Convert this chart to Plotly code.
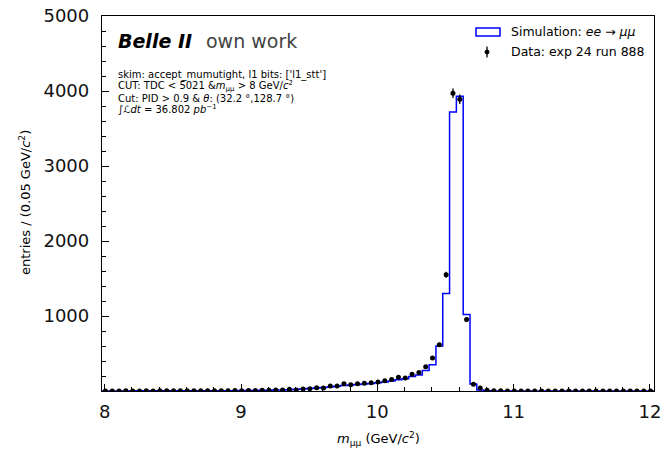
import numpy as np
import plotly.graph_objects as go

# ---- data ----
bin_lo = 7.98
bin_width = 0.05
mc_counts = [
    1, 1, 1, 1, 1, 2, 2, 2, 2, 2,
    2, 3, 3, 3, 3, 4, 4, 4, 5, 5,
    6, 7, 8, 9, 10, 12, 14, 18, 22, 27,
    33, 40, 47, 55, 63, 72, 80, 88, 95, 100,
    110, 120, 135, 150, 165, 195, 215, 275, 350, 600,
    1300, 3720, 3930, 1020, 95, 15, 3, 1, 0, 0,
    0, 0, 0, 0, 0, 0, 0, 0, 0, 0,
    0, 0, 0, 0, 0, 0, 0, 0, 0, 0,
    0,
]
data_counts = [
    1, 0, 1, 2, 1, 1, 2, 1, 2, 3,
    2, 3, 3, 2, 4, 3, 4, 5, 4, 6,
    5, 7, 8, 9, 11, 12, 15, 22, 15, 27,
    31, 44, 40, 66, 66, 97, 84, 97, 102, 111,
    120, 137, 155, 182, 173, 222, 248, 324, 439, 616,
    1550, 3970, 3890, 953, 90, 40, 10, 4, 2, 1,
    0, 1, 0, 0, 1, 0, 0, 0, 1, 0,
    0, 0, 1, 0, 0, 0, 0, 1, 0, 0,
    0,
]
x_ticks = [8, 9, 10, 11, 12]
y_ticks = [0, 1000, 2000, 3000, 4000, 5000]
y_ticktext = ["", "1000", "2000", "3000", "4000", "5000"]

n = len(mc_counts)
edges = bin_lo + bin_width * np.arange(n + 1)
centers = 0.5 * (edges[:-1] + edges[1:])

step_x = [edges[0]] + list(edges[:-1]) + [edges[-1], edges[-1]]
step_y = [0] + list(mc_counts) + [mc_counts[-1], 0]

fig = go.Figure()
fig.add_trace(go.Scatter(
    x=step_x, y=step_y, mode="lines", line=dict(color="#0000ff", width=1.5, shape="hv"),
    showlegend=False, hoverinfo="skip",
))
fig.add_trace(go.Scatter(
    x=centers, y=data_counts, mode="markers",
    marker=dict(color="black", size=5),
    error_y=dict(type="data", array=np.sqrt(np.array(data_counts, dtype=float)),
                 color="black", thickness=1.3, width=0),
    showlegend=False,
))

L, R, T, B = 102, 654, 16, 391
W, H = 664, 451


def px(xp):
    return (xp - L) / (R - L)


def py(yp):
    return (B - yp) / (B - T)


FONT = "DejaVu Sans"
anns = []


def txt(x, y, s, size, color="black", xanchor="left", angle=0):
    anns.append(dict(x=px(x), y=py(y), xref="paper", yref="paper", text=s, showarrow=False,
                     xanchor=xanchor, yanchor="middle", textangle=angle,
                     font=dict(family=FONT, size=size, color=color)))


txt(116, 41, "<b><i>Belle II</i></b>", 19)
txt(204, 41, "own work", 19, "#444444")
txt(116, 75, "skim: accept_mumutight, l1 bits: ['l1_stt']", 10)
txt(116, 86.5, "CUT: TDC &lt; 5021 &amp;<i>m</i><sub>μμ</sub> &gt; 8 GeV/<i>c</i><sup>2</sup>", 10)
txt(116, 98, "Cut: PID &gt; 0.9 &amp; <i>θ</i>: (32.2 °,128.7 °)", 10)
txt(116, 109.5, "∫<i>ℒdt</i> = 36.802 <i>pb</i><sup>−1</sup>", 10)
txt(509, 32, "Simulation: <i>ee</i> → <i>μμ</i>", 12.5)
txt(509, 51, "Data: exp 24 run 888", 12.5)
# axis titles
txt(378, 439, "<i>m</i><sub>μμ</sub> (GeV/<i>c</i><sup>2</sup>)", 13, xanchor="center")
txt(25, 203, "entries / (0.05 GeV/<i>c</i><sup>2</sup>)", 13, xanchor="center", angle=-90)

shapes = [
    dict(type="rect", xref="paper", yref="paper", x0=px(476), x1=px(500), y0=py(28), y1=py(36),
         line=dict(color="#0000ff", width=1.5), fillcolor="rgba(0,0,0,0)"),
    dict(type="line", xref="paper", yref="paper", x0=px(487), x1=px(487), y0=py(46.5), y1=py(57.5),
         line=dict(color="black", width=1.3)),
    dict(type="circle", xref="paper", yref="paper", x0=px(485), x1=px(489), y0=py(50), y1=py(54),
         line=dict(color="black", width=1), fillcolor="black"),
]

fig.update_layout(
    width=W, height=H, margin=dict(l=L, r=W - R, t=T, b=H - B, autoexpand=False),
    paper_bgcolor="white", plot_bgcolor="white",
    font=dict(family=FONT, color="black"),
    annotations=anns, shapes=shapes, showlegend=False,
)
fig.update_xaxes(
    range=[edges[0], edges[-1]], tickmode="array", tickvals=x_ticks,
    ticks="inside", ticklen=7, tickwidth=1.2, tickcolor="black",
    showline=True, linecolor="black", linewidth=1.3, mirror=True,
    showgrid=False, zeroline=False, automargin=False,
    tickfont=dict(size=18, color="#111"), ticklabelstandoff=4,
    minor=dict(tickmode="linear", tick0=8, dtick=0.2, ticks="inside", ticklen=4, tickwidth=1, tickcolor="black"),
)
fig.update_yaxes(
    range=[0, 5000], tickmode="array", tickvals=y_ticks, ticktext=y_ticktext,
    ticks="inside", ticklen=7, tickwidth=1.2, tickcolor="black",
    showline=True, linecolor="black", linewidth=1.3, mirror=True,
    showgrid=False, zeroline=False, automargin=False,
    tickfont=dict(size=18, color="#111"), ticklabelstandoff=8,
    minor=dict(tickmode="linear", tick0=0, dtick=200, ticks="inside", ticklen=4, tickwidth=1, tickcolor="black"),
)

fig.write_html("out.html")
